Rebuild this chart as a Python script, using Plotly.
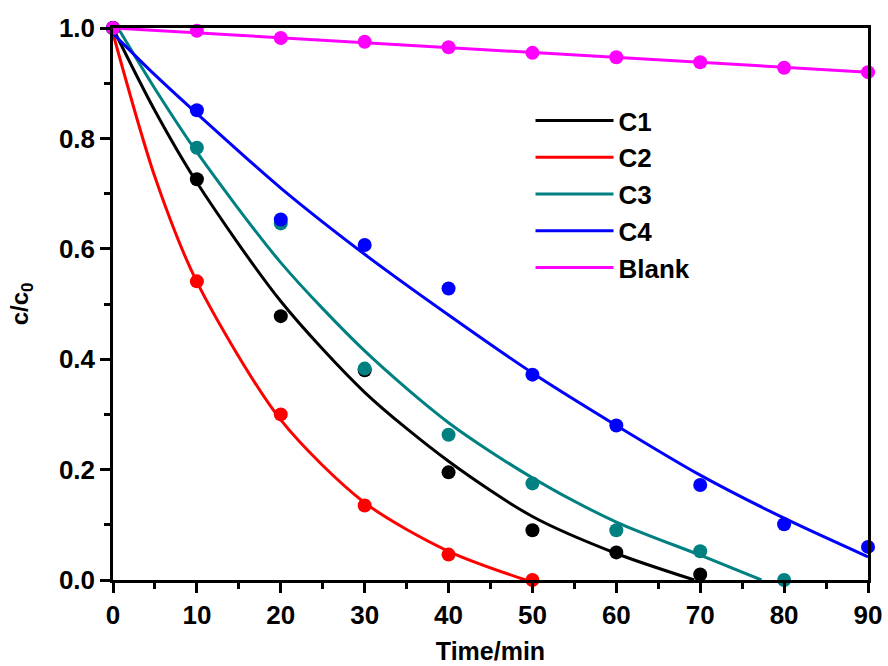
import plotly.graph_objects as go

# Measured concentration ratios c/c0 at each sampling time
time_pts = [0, 10, 20, 30, 40, 50, 60, 70, 80, 90]
c1_pts = [1.0, 0.726, 0.478, 0.380, 0.195, 0.090, 0.050, 0.010]
c2_pts = [1.0, 0.541, 0.300, 0.135, 0.046, 0.000]
c3_pts = [1.0, 0.783, 0.646, 0.383, 0.263, 0.175, 0.090, 0.052, 0.000]
c4_pts = [1.0, 0.851, 0.653, 0.607, 0.528, 0.372, 0.280, 0.172, 0.101, 0.060]
blank_pts = [1.0, 0.995, 0.982, 0.975, 0.965, 0.955, 0.947, 0.938, 0.928, 0.920]

# Fitted kinetic curves
c1_fit_t = [0.3, 5, 10, 20, 30, 40, 50, 60, 69.3]
c1_fit = [0.99, 0.85, 0.72, 0.505, 0.34, 0.215, 0.115, 0.048, 0.0]
c2_fit_t = [0, 5, 10, 20, 30, 40, 49.2]
c2_fit = [0.99, 0.73, 0.54, 0.29, 0.14, 0.052, 0.0]
c3_fit_t = [0.8, 5, 10, 20, 30, 40, 50, 60, 70, 77.3]
c3_fit = [0.995, 0.89, 0.775, 0.575, 0.415, 0.285, 0.185, 0.105, 0.045, 0.0]
c4_fit_t = [0, 5, 10, 20, 30, 40, 50, 60, 70, 80, 90]
c4_fit = [0.99, 0.915, 0.845, 0.71, 0.59, 0.48, 0.375, 0.28, 0.19, 0.112, 0.042]
blank_fit_t = [0, 90]
blank_fit = [1.0, 0.92]

names = ["C1", "C2", "C3", "C4", "Blank"]
colors = ["#000000", "#ff0000", "#008080", "#0000ff", "#ff00ff"]
pts = [c1_pts, c2_pts, c3_pts, c4_pts, blank_pts]
fit_t = [c1_fit_t, c2_fit_t, c3_fit_t, c4_fit_t, blank_fit_t]
fits = [c1_fit, c2_fit, c3_fit, c4_fit, blank_fit]

FONT = "Liberation Sans, Arial, sans-serif"
BIG = dict(family=FONT, size=26, color="black", weight="bold")

fig = go.Figure()
for name, col, t, y in zip(names, colors, fit_t, fits):
    fig.add_trace(go.Scatter(
        x=t, y=y, mode="lines", name=name,
        line=dict(color=col, width=3, shape="spline", smoothing=0.8),
    ))
for name, col, y in zip(names, colors, pts):
    fig.add_trace(go.Scatter(
        x=time_pts[:len(y)], y=y, mode="markers", showlegend=False,
        marker=dict(color=col, size=14), cliponaxis=False,
    ))

axis_common = dict(
    showgrid=False, zeroline=False, automargin=False,
    showline=True, linecolor="black", linewidth=2.5, mirror=True,
    ticks="outside", ticklen=10, tickwidth=2.5, tickcolor="black",
    tickfont=BIG,
)

fig.update_layout(
    width=888, height=666,
    margin=dict(l=113, r=20, t=28, b=86),
    paper_bgcolor="white", plot_bgcolor="white",
    xaxis=dict(
        range=[0, 90], tickvals=[0, 10, 20, 30, 40, 50, 60, 70, 80, 90],
        minor=dict(dtick=5, ticks="outside", ticklen=6, tickwidth=2.5, tickcolor="black"),
        title=dict(text="Time/min", font=dict(family=FONT, size=25, color="black", weight="bold"), standoff=14),
        **axis_common,
    ),
    yaxis=dict(
        range=[0, 1.0], tickvals=[0, 0.2, 0.4, 0.6, 0.8, 1.0], tickformat=".1f",
        minor=dict(dtick=0.1, ticks="outside", ticklen=6, tickwidth=2.5, tickcolor="black"),
        title=dict(text="c/c<sub>0</sub>", font=dict(family=FONT, size=24, color="black", weight="bold"), standoff=24),
        **axis_common,
    ),
    legend=dict(
        x=0.553, y=0.875, xanchor="left", yanchor="top",
        bgcolor="rgba(0,0,0,0)", borderwidth=0,
        font=BIG,
        itemwidth=78, tracegroupgap=0,
    ),
)

fig.write_html("out.html")
